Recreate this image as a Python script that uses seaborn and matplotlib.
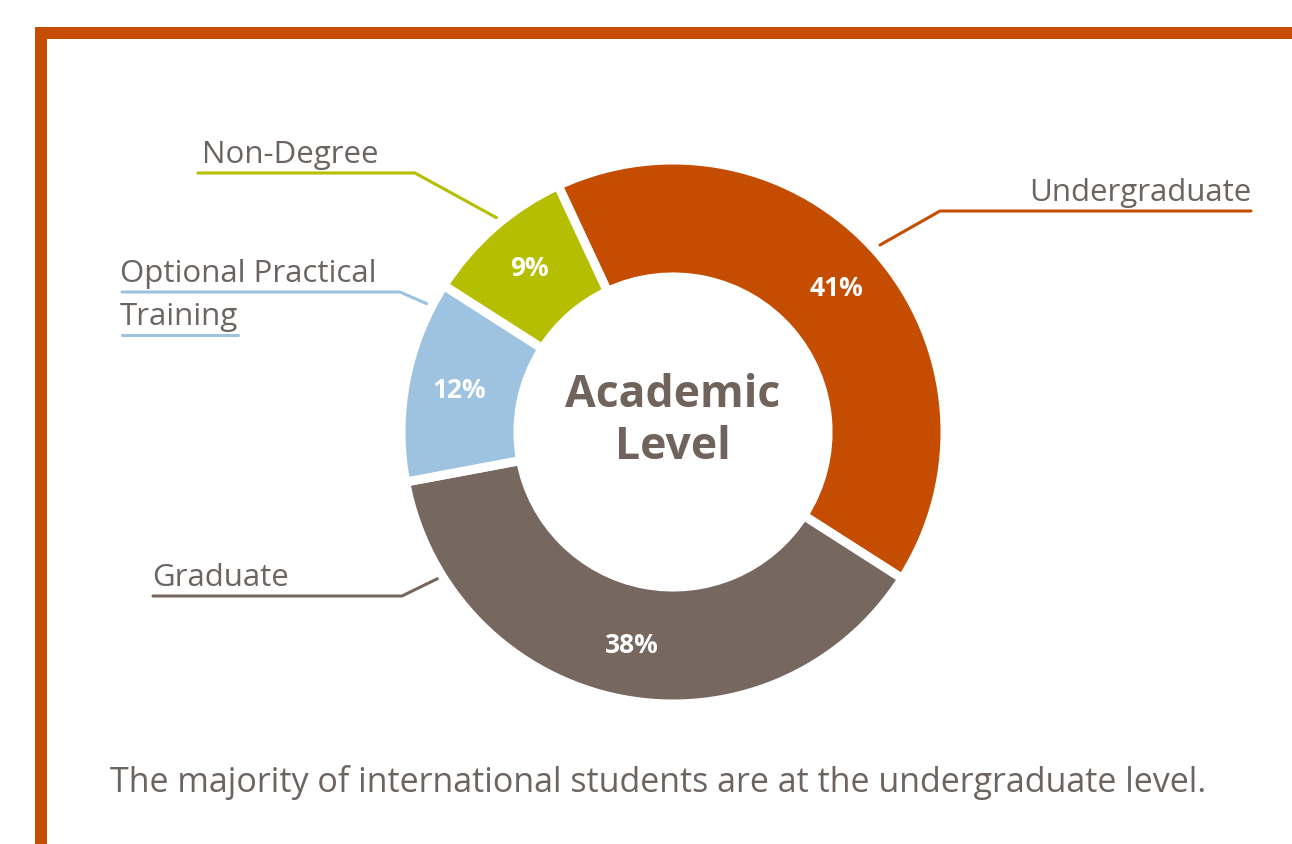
import seaborn as sns
import matplotlib.pyplot as plt
from matplotlib.patches import Rectangle

categories = ["Undergraduate", "Graduate", "Optional Practical\nTraining", "Non-Degree"]
shares = [41, 38, 12, 9]
colors = ["#C44D02", "#76675F", "#9EC3E0", "#B5BE00"]

caption = "The majority of international students are at the undergraduate level."
center_title = "Academic\nLevel"

sns.set_theme(style="white")
plt.rcParams['font.family'] = ['Open Sans', 'DejaVu Sans']
text_grey = "#6B6461"

W, H = 1292, 844
fig = plt.figure(figsize=(W / 100, H / 100), dpi=100)
fig.patch.set_facecolor("white")

# overlay in pixel coords for border, leader lines and labels
over = fig.add_axes([0, 0, 1, 1])
over.set_xlim(0, W)
over.set_ylim(H, 0)
over.axis("off")

over.add_patch(Rectangle((35, 27), W - 35, 12, color=colors[0], lw=0))
over.add_patch(Rectangle((35, 27), 12, H - 27, color=colors[0], lw=0))

# donut
cx, cy, r = 673, 432, 272
pie_ax = fig.add_axes([(cx - r) / W, 1 - (cy + r) / H, 2 * r / W, 2 * r / H])
pal = sns.color_palette(colors)
wedges, _, autotexts = pie_ax.pie(
    shares, colors=pal, startangle=115, counterclock=False,
    autopct="%d%%", pctdistance=0.8, radius=1.0,
    wedgeprops=dict(width=0.43, edgecolor="white", linewidth=6.5),
    textprops=dict(color="white", fontsize=19, fontweight="bold"))
pie_ax.set_aspect("auto")
pie_ax.set_xlim(-1, 1)
pie_ax.set_ylim(-1, 1)
pie_ax.axis("off")

pie_ax.text(0, 0.04, center_title, ha="center", va="center", fontsize=32,
            fontweight="bold", color="#6F635C", linespacing=1.2)

# leader lines and category labels
lw = 2.2
fs = 22.5
# Undergraduate
over.plot([880, 940, 1251], [245, 211, 211], color=colors[0], lw=lw)
over.text(1251, 208, categories[0], ha="right", va="bottom", fontsize=fs, color=text_grey)
# Graduate
over.plot([445, 402, 153], [575, 596, 596], color=colors[1], lw=lw)
over.text(152, 593, categories[1], ha="left", va="bottom", fontsize=fs, color=text_grey)
# Optional Practical Training
over.plot([432, 400, 122], [306, 292, 292], color=colors[2], lw=lw)
over.plot([122, 238], [335, 335], color=colors[2], lw=lw)
over.text(120, 289, "Optional Practical", ha="left", va="bottom", fontsize=fs, color=text_grey)
over.text(120, 332, "Training", ha="left", va="bottom", fontsize=fs, color=text_grey)
# Non-Degree
over.plot([497, 415, 198], [218, 173, 173], color=colors[3], lw=lw)
over.text(202, 170, categories[3], ha="left", va="bottom", fontsize=fs, color=text_grey)

over.text(110, 783, caption, ha="left", va="center", fontsize=24.5, color=text_grey)

fig.savefig("out.png", dpi=100, facecolor="white")
